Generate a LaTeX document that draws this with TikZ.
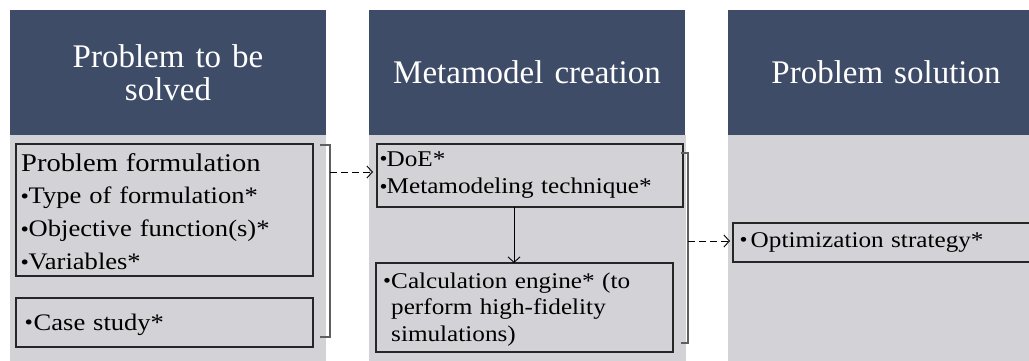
\documentclass[tikz,border=0pt]{standalone}
\usepackage{fontspec}
\setmainfont{Liberation Serif}
\newfontfamily\bfont[FakeStretch=1.12]{Liberation Serif}
\usetikzlibrary{arrows.meta}
\definecolor{hdr}{RGB}{62,76,104}
\definecolor{bg}{RGB}{211,211,215}
\definecolor{brk}{RGB}{95,95,95}
\newcommand\bul[1][9pt]{\makebox[#1][l]{\raisebox{0.3pt}{\scalebox{0.9}{•}}}}
\begin{document}
\begin{tikzpicture}[x=1pt,y=-1pt,
  hdrbox/.style={fill=hdr, draw=none, inner sep=0pt, outer sep=0pt, minimum width=316pt, minimum height=125pt, anchor=north west, text=white, font=\fontsize{33}{33}\selectfont, align=center, text width=300pt},
  itembox/.style={draw=black!85, line width=1.3pt, inner sep=0pt, outer sep=0pt, anchor=north west},
  itemtxt/.style={inner sep=0pt, anchor=base west, align=left},
  brkt/.style={draw=brk, line width=1.6pt},
  conn/.style={draw=black, line width=0.9pt, -{Straight Barb[length=5.5pt,width=12pt]}},
  dconn/.style={conn, dash pattern=on 7pt off 4pt}]
\clip (0,0) rectangle (1029,361);
% column bodies
\fill[bg] (10,135) rectangle (326,361);
\fill[bg] (369,135) rectangle (686,361);
\fill[bg] (728,135) rectangle (1045,361);
% headers
\node[hdrbox] (h1) at (10,10) {Problem to be\\solved};
\node[hdrbox] (h2) at (369,10) {Metamodel creation};
\node[hdrbox] (h3) at (728,10) {Problem solution};
% column 1
\node[itembox, minimum width=297pt, minimum height=132pt] (pf) at (16,144) {};
\node[itemtxt, text width=295pt, font=\bfont\fontsize{23.7}{32.8}\selectfont] (pft) at (20.5,171)
  {{\fontsize{25.5}{32.8}\selectfont\hspace*{0.5pt}Problem formulation}\\\bul[8pt]Type of formulation*\\\bul[8pt]Objective function(s)*\\\bul[8pt]Variables*};
\node[itembox, minimum width=297pt, minimum height=49pt] (cs) at (16,298) {};
\node[itemtxt, text width=280pt, font=\bfont\fontsize{23.7}{30}\selectfont] (cst) at (24.5,330) {\bul Case study*};
% column 2
\node[itembox, minimum width=306pt, minimum height=63pt] (doe) at (377,144) {};
\node[itemtxt, text width=300pt, font=\bfont\fontsize{22.5}{28}\selectfont] (doet) at (379.5,166)
  {\bul[7pt]DoE*\\\bul[7pt]Metamodeling technique*};
\node[itembox, minimum width=297pt, minimum height=89pt] (calc) at (376,263) {};
\node[itemtxt, text width=290pt, font=\bfont\fontsize{22.5}{26.5}\selectfont] (calct) at (383,288)
  {\bul[8pt]\parbox[t]{280pt}{Calculation engine* (to\\perform high-fidelity\\simulations)}};
% column 3
\node[itembox, minimum width=320pt, minimum height=39pt] (opt) at (733,223) {};
\node[itemtxt, text width=285pt, font=\bfont\fontsize{22.5}{26}\selectfont] (optt) at (739.5,247) {\bul[11pt]Optimization strategy*};
% brackets
\draw[brkt] (320,145) -- (330,145) -- (330,337) -- (320,337);
\draw[brkt] (681,153) -- (688,153) -- (688,343) -- (681,343);
\coordinate (b1) at (330,172);
\coordinate (b2) at (688,241);
\coordinate (va) at (514,0);
% connectors
\draw[dconn, shorten >=4pt] (b1) -- (b1 -| doe.west);
\draw[dconn, shorten >=3pt] (b2) -- (b2 -| opt.west);
\draw[conn] (va |- doe.south) -- (va |- calc.north);
\end{tikzpicture}
\end{document}
